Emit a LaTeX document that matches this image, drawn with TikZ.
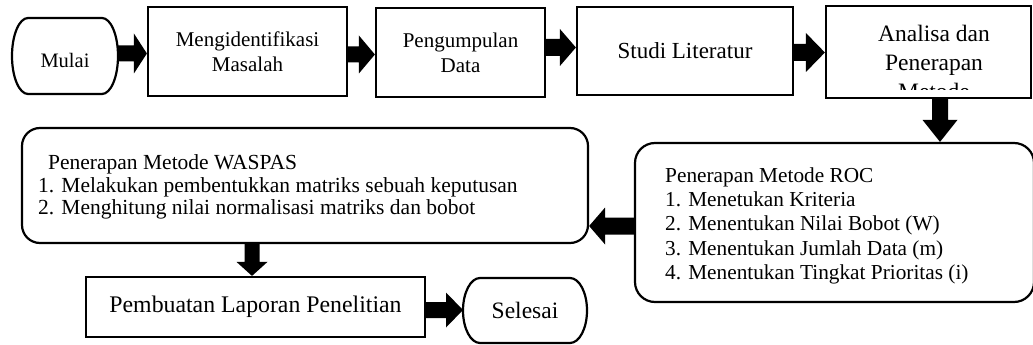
\documentclass[tikz,border=0pt]{standalone}
\usepackage{fontspec}
\setmainfont{Liberation Serif}
\usetikzlibrary{calc}

% outline of a terminator (start/end) node: straight top and bottom, elliptic ends
\newcommand{\terminatoroutline}[3]{%
  \draw[line width=2.2pt]
    ([xshift=#2]#1.north west) -- ([xshift=-#2]#1.north east)
    arc[start angle=90, end angle=-90, x radius=#2, y radius=#3]
    -- ([xshift=#2]#1.south west)
    arc[start angle=270, end angle=90, x radius=#2, y radius=#3] -- cycle;}

% filled block arrow from coordinate #1 to coordinate #2
% #3 half shaft width, #4 half head width, #5 head length
\newcommand{\blockarrow}[5]{%
  \path ($(#2)!#5!(#1)$) coordinate (#1-#2-base);
  \fill ($(#1)!#3!90:(#2)$)
     -- ($(#1-#2-base)!#3!-90:(#1)$)
     -- ($(#1-#2-base)!#4!-90:(#1)$)
     -- (#2)
     -- ($(#1-#2-base)!#4!90:(#1)$)
     -- ($(#1-#2-base)!#3!90:(#1)$)
     -- ($(#1)!#3!-90:(#2)$) -- cycle;}

\begin{document}
\begin{tikzpicture}[x=1pt, y=-1pt,
  box/.style={draw, line width=2.2pt, inner sep=0pt, align=center},
  rbox/.style={box, rounded corners=#1},
  term/.style={inner sep=0pt, outer sep=0pt, align=center},
  txt/.style={inner sep=0pt, align=left}
]
\useasboundingbox (0,0) rectangle (1033,345);

% ---- top row ----
\node[term, minimum width=106pt, minimum height=76pt,
      font=\fontsize{20.5}{24}\selectfont] (mulai) at (65,56)
      {\raisebox{-12pt}[0pt][0pt]{Mulai}};
\terminatoroutline{mulai}{16pt}{38pt}

\node[box, minimum width=199pt, minimum height=89pt,
      font=\fontsize{21}{25}\selectfont] (ident) at (247.5,51.5)
      {Mengidentifikasi\\Masalah};

\node[box, minimum width=169pt, minimum height=89pt,
      font=\fontsize{21}{25}\selectfont] (data) at (460.5,52.5)
      {Pengumpulan\\Data};

\node[box, minimum width=216pt, minimum height=88pt,
      font=\fontsize{23}{27}\selectfont] (studi) at (685,51)
      {Studi Literatur};

\node[box, minimum width=205pt, minimum height=92pt] (analisa) at (928.5,52) {};
\begin{scope}
  \clip (analisa.north west) rectangle ([yshift=10pt]analisa.south east);
  \node[inner sep=0pt, align=center, font=\fontsize{23.5}{29}\selectfont]
        (analisatext) at (934,62) {Analisa dan\\Penerapan\\Metode};
\end{scope}

% ---- ROC ----
\node[rbox=20pt, minimum width=399pt, minimum height=159pt] (roc) at (834.5,222.5) {};
\node[txt, anchor=north west, font=\fontsize{21.3}{24.2}\selectfont]
      (roctext) at (665,167.5)
      {Penerapan Metode ROC\\
       1. Menetukan Kriteria\\
       2. Menentukan Nilai Bobot (W)\\
       3. Menentukan Jumlah Data (m)\\
       4. Menentukan Tingkat Prioritas (i)};

% ---- WASPAS ----
\node[rbox=18pt, minimum width=566pt, minimum height=115pt] (waspas) at (305,185.5) {};
\node[txt, anchor=north west, font=\fontsize{21.5}{22.4}\selectfont]
      (waspastext) at (38,154.6)
      {\hspace*{10pt}Penerapan Metode WASPAS\\
       1. Melakukan pembentukkan matriks sebuah keputusan\\
       2. Menghitung nilai normalisasi matriks dan bobot};

% ---- bottom row ----
\node[box, minimum width=339pt, minimum height=60pt,
      font=\fontsize{23.8}{28}\selectfont] (laporan) at (255.5,307)
      {Pembuatan Laporan Penelitian};

\node[term, minimum width=124pt, minimum height=65pt,
      font=\fontsize{23.5}{28}\selectfont] (selesai) at (525,310.5) {Selesai};
\terminatoroutline{selesai}{17pt}{32.5pt}

% ---- block arrows ----
\coordinate (h1) at (0,53.5);
\coordinate (h2) at (0,54.5);
\coordinate (h3) at (0,47.5);
\coordinate (h4) at (0,52.5);
\coordinate (v5) at (940,0);
\coordinate (h6) at (0,226);
\coordinate (v7) at (252,0);
\coordinate (h8) at (0,310);

\coordinate (s1) at (mulai.east |- h1);   \coordinate (e1) at (ident.west |- h1);
\coordinate (s2) at (ident.east |- h2);   \coordinate (e2) at (data.west |- h2);
\coordinate (s3) at (data.east |- h3);    \coordinate (e3) at (studi.west |- h3);
\coordinate (s4) at (studi.east |- h4);   \coordinate (e4) at (analisa.west |- h4);
\coordinate (s5) at (analisa.south -| v5);\coordinate (e5) at (roc.north -| v5);
\coordinate (s6) at (roc.west |- h6);     \coordinate (e6) at (waspas.east |- h6);
\coordinate (s7) at (waspas.south -| v7); \coordinate (e7) at (laporan.north -| v7);
\coordinate (s8) at (laporan.east |- h8); \coordinate (e8) at (selesai.west |- h8);

\blockarrow{s1}{e1}{8pt}{20pt}{13pt}
\blockarrow{s2}{e2}{8pt}{19pt}{16pt}
\blockarrow{s3}{e3}{8.5pt}{18.5pt}{16pt}
\blockarrow{s4}{e4}{8.5pt}{19.5pt}{19pt}
\blockarrow{s5}{e5}{8pt}{17.5pt}{22pt}
\blockarrow{s6}{e6}{8.5pt}{18.5pt}{16pt}
\blockarrow{s7}{e7}{7.5pt}{15.5pt}{14pt}
\blockarrow{s8}{e8}{8pt}{17.5pt}{17pt}
\end{tikzpicture}
\end{document}
